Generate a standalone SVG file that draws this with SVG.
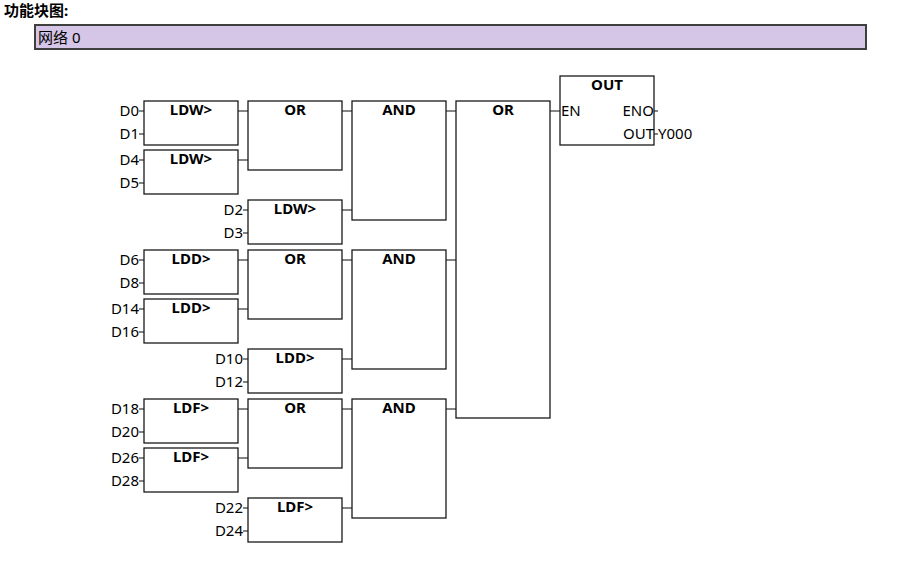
<svg xmlns="http://www.w3.org/2000/svg" width="901" height="561" viewBox="0 0 901 561">
<style>
text{font-family:"Noto Sans","Noto Sans CJK SC",sans-serif;font-size:15px;fill:#000}
.t{font-weight:bold;text-anchor:middle}
.r{text-anchor:end}
.b{fill:#fff;stroke:#1a1a1a;stroke-width:1.3}
.c line{stroke:#333;stroke-width:1.2}
</style>
<rect width="901" height="561" fill="#fff"/>
<text x="4" y="16" style="font-weight:bold" font-family="Noto Sans CJK SC, sans-serif">功能块图:</text>
<g id="network">
<rect x="35" y="25" width="831" height="24" fill="#d5c5e6" stroke="#3f3f3f" stroke-width="2"/>
<text x="38" y="43" font-family="Noto Sans CJK SC, sans-serif">网络 0</text>
</g>
<g class="c" id="connectors">
<line x1="139" y1="111" x2="144" y2="111"/><line x1="139" y1="134" x2="144" y2="134"/>
<line x1="139" y1="160" x2="144" y2="160"/><line x1="139" y1="183" x2="144" y2="183"/>
<line x1="243" y1="210" x2="248" y2="210"/><line x1="243" y1="233" x2="248" y2="233"/>
<line x1="238" y1="111" x2="248" y2="111"/><line x1="238" y1="160" x2="248" y2="160"/>
<line x1="342" y1="111" x2="352" y2="111"/><line x1="342" y1="210" x2="352" y2="210"/>
<line x1="446" y1="111" x2="456" y2="111"/>
<line x1="139" y1="260" x2="144" y2="260"/><line x1="139" y1="283" x2="144" y2="283"/>
<line x1="139" y1="309" x2="144" y2="309"/><line x1="139" y1="332" x2="144" y2="332"/>
<line x1="243" y1="359" x2="248" y2="359"/><line x1="243" y1="382" x2="248" y2="382"/>
<line x1="238" y1="260" x2="248" y2="260"/><line x1="238" y1="309" x2="248" y2="309"/>
<line x1="342" y1="260" x2="352" y2="260"/><line x1="342" y1="359" x2="352" y2="359"/>
<line x1="446" y1="260" x2="456" y2="260"/>
<line x1="139" y1="409" x2="144" y2="409"/><line x1="139" y1="432" x2="144" y2="432"/>
<line x1="139" y1="458" x2="144" y2="458"/><line x1="139" y1="481" x2="144" y2="481"/>
<line x1="243" y1="508" x2="248" y2="508"/><line x1="243" y1="531" x2="248" y2="531"/>
<line x1="238" y1="409" x2="248" y2="409"/><line x1="238" y1="458" x2="248" y2="458"/>
<line x1="342" y1="409" x2="352" y2="409"/><line x1="342" y1="508" x2="352" y2="508"/>
<line x1="446" y1="409" x2="456" y2="409"/>
<line x1="550" y1="111" x2="560" y2="111"/>
<line x1="654" y1="111" x2="658" y2="111"/>
<line x1="654" y1="134" x2="658" y2="134"/>
</g>
<g id="ldw1"><rect class="b" x="144" y="101" width="94" height="44"/><text class="t" x="191" y="115">LDW&gt;</text><text class="r" x="139" y="116">D0</text><text class="r" x="139" y="139">D1</text></g>
<g id="ldw2"><rect class="b" x="144" y="150" width="94" height="44"/><text class="t" x="191" y="164">LDW&gt;</text><text class="r" x="139" y="165">D4</text><text class="r" x="139" y="188">D5</text></g>
<g id="or1"><rect class="b" x="248" y="101" width="94" height="69"/><text class="t" x="295" y="115">OR</text></g>
<g id="ldw3"><rect class="b" x="248" y="200" width="94" height="44"/><text class="t" x="295" y="214">LDW&gt;</text><text class="r" x="243" y="215">D2</text><text class="r" x="243" y="238">D3</text></g>
<g id="and1"><rect class="b" x="352" y="101" width="94" height="119"/><text class="t" x="399" y="115">AND</text></g>
<g id="ldd1"><rect class="b" x="144" y="250" width="94" height="44"/><text class="t" x="191" y="264">LDD&gt;</text><text class="r" x="139" y="265">D6</text><text class="r" x="139" y="288">D8</text></g>
<g id="ldd2"><rect class="b" x="144" y="299" width="94" height="44"/><text class="t" x="191" y="313">LDD&gt;</text><text class="r" x="139" y="314">D14</text><text class="r" x="139" y="337">D16</text></g>
<g id="or2"><rect class="b" x="248" y="250" width="94" height="69"/><text class="t" x="295" y="264">OR</text></g>
<g id="ldd3"><rect class="b" x="248" y="349" width="94" height="44"/><text class="t" x="295" y="363">LDD&gt;</text><text class="r" x="243" y="364">D10</text><text class="r" x="243" y="387">D12</text></g>
<g id="and2"><rect class="b" x="352" y="250" width="94" height="119"/><text class="t" x="399" y="264">AND</text></g>
<g id="ldf1"><rect class="b" x="144" y="399" width="94" height="44"/><text class="t" x="191" y="413">LDF&gt;</text><text class="r" x="139" y="414">D18</text><text class="r" x="139" y="437">D20</text></g>
<g id="ldf2"><rect class="b" x="144" y="448" width="94" height="44"/><text class="t" x="191" y="462">LDF&gt;</text><text class="r" x="139" y="463">D26</text><text class="r" x="139" y="486">D28</text></g>
<g id="or3"><rect class="b" x="248" y="399" width="94" height="69"/><text class="t" x="295" y="413">OR</text></g>
<g id="ldf3"><rect class="b" x="248" y="498" width="94" height="44"/><text class="t" x="295" y="512">LDF&gt;</text><text class="r" x="243" y="513">D22</text><text class="r" x="243" y="536">D24</text></g>
<g id="and3"><rect class="b" x="352" y="399" width="94" height="119"/><text class="t" x="399" y="413">AND</text></g>
<g id="or4"><rect class="b" x="456" y="101" width="94" height="317"/><text class="t" x="503" y="115">OR</text></g>
<g id="out"><rect class="b" x="560" y="76" width="94" height="69"/><text class="t" x="607" y="90">OUT</text><text x="561" y="116">EN</text><text class="r" x="654" y="116">ENO</text><text class="r" x="654" y="139">OUT</text><text x="658" y="139">Y000</text></g>
</svg>
